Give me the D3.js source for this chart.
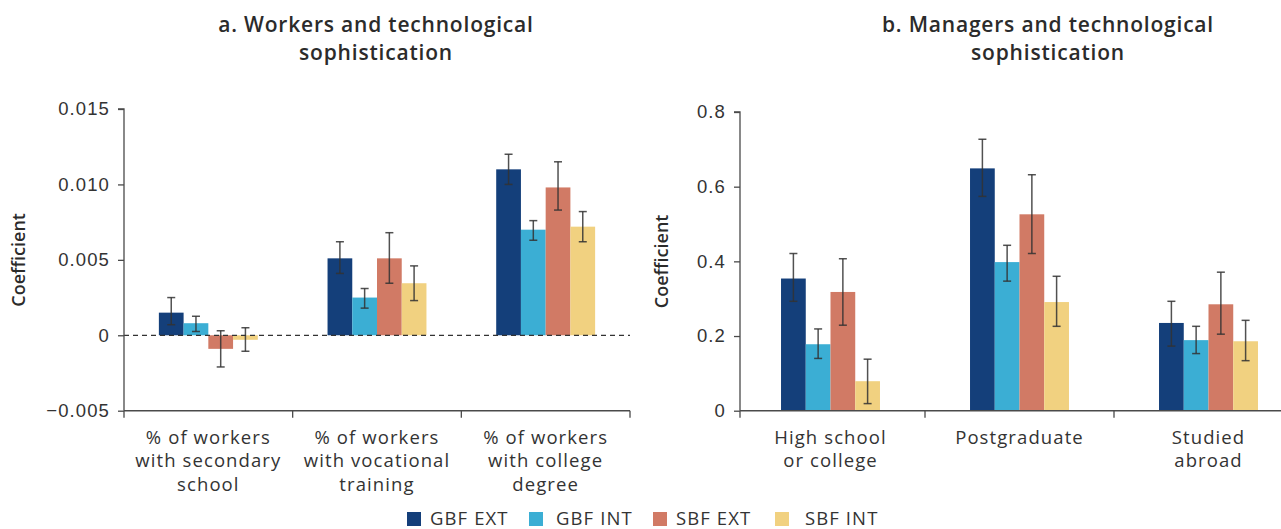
<!DOCTYPE html>
<html>
<head>
<meta charset="utf-8">
<script src="https://cdn.jsdelivr.net/npm/d3@7"></script>
<style>
  html, body { margin: 0; padding: 0; background: #fff; }
  svg { display: block; font-family: "Open Sans", "DejaVu Sans", sans-serif; }
</style>
</head>
<body>
<svg id="chart" width="1281" height="529"></svg>
<script>
// Series and colours
const seriesNames = ["GBF EXT", "GBF INT", "SBF EXT", "SBF INT"];
const seriesColors = ["#143f7a", "#3baed4", "#d17a65", "#f1d180"];

// Panel a: workers
const workerCategories = [
  ["% of workers", "with secondary", "school"],
  ["% of workers", "with vocational", "training"],
  ["% of workers", "with college", "degree"]
];
const workerGbfExt = [0.0015, 0.0051, 0.0110];
const workerGbfInt = [0.0008, 0.0025, 0.0070];
const workerSbfExt = [-0.0009, 0.0051, 0.0098];
const workerSbfInt = [-0.0003, 0.00345, 0.0072];
const workerGbfExtCI = [[0.0007, 0.0025], [0.0041, 0.0062], [0.0100, 0.0120]];
const workerGbfIntCI = [[0.00025, 0.00126], [0.0018, 0.0031], [0.0063, 0.0076]];
const workerSbfExtCI = [[-0.0021, 0.0003], [0.00345, 0.0068], [0.0083, 0.0115]];
const workerSbfIntCI = [[-0.00106, 0.0005], [0.0023, 0.0046], [0.0062, 0.0082]];
const workerTicks = [-0.005, 0, 0.005, 0.010, 0.015];
const workerTickLabels = ["\u22120.005", "0", "0.005", "0.010", "0.015"];

// Panel b: managers
const managerCategories = [
  ["High school", "or college"],
  ["Postgraduate"],
  ["Studied", "abroad"]
];
const managerGbfExt = [0.354, 0.649, 0.235];
const managerGbfInt = [0.178, 0.398, 0.189];
const managerSbfExt = [0.318, 0.526, 0.285];
const managerSbfInt = [0.079, 0.291, 0.186];
const managerGbfExtCI = [[0.293, 0.421], [0.574, 0.727], [0.173, 0.293]];
const managerGbfIntCI = [[0.140, 0.219], [0.347, 0.443], [0.153, 0.226]];
const managerSbfExtCI = [[0.229, 0.407], [0.421, 0.632], [0.205, 0.371]];
const managerSbfIntCI = [[0.019, 0.138], [0.226, 0.360], [0.134, 0.242]];
const managerTicks = [0, 0.2, 0.4, 0.6, 0.8];
const managerTickLabels = ["0", "0.2", "0.4", "0.6", "0.8"];

const svg = d3.select("#chart");
const textColor = "#2b2b2b";
const axisColor = "#4a4a4a";
const labelSize = "18.5px";
const labelSpacing = "1.1px";

function buildRows(cats, values, cis) {
  return cats.map((c, i) => ({
    key: i,
    label: c,
    bars: seriesNames.map((s, j) => ({ series: s, color: seriesColors[j], value: values[j][i], lo: cis[j][i][0], hi: cis[j][i][1] }))
  }));
}

function drawPanel(opt) {
  const g = svg.append("g");
  const rows = buildRows(opt.categories, opt.values, opt.cis);

  const y = d3.scaleLinear().domain(opt.yDomain).range(opt.yRange);
  const x0 = d3.scaleBand().domain(rows.map(r => r.key)).range(opt.xRange).padding(0);
  const x1 = d3.scaleBand().domain(seriesNames).range([0, x0.bandwidth()])
    .paddingInner(0).paddingOuter(opt.groupPad);

  // Bars
  const groups = g.selectAll("g.grp").data(rows).join("g")
    .attr("transform", r => `translate(${x0(r.key)},0)`);
  groups.selectAll("rect").data(r => r.bars).join("rect")
    .attr("x", d => x1(d.series))
    .attr("width", x1.bandwidth())
    .attr("y", d => y(Math.max(0, d.value)))
    .attr("height", d => Math.abs(y(d.value) - y(0)))
    .attr("fill", d => d.color);

  // Zero reference line
  if (opt.zeroLine) {
    g.append("line")
      .attr("x1", opt.axisX).attr("x2", opt.xRange[1])
      .attr("y1", y(0)).attr("y2", y(0))
      .attr("stroke", "#333").attr("stroke-width", 1.3)
      .attr("stroke-dasharray", "5,4");
  }

  // Error bars
  const cap = 4;
  const eb = groups.selectAll("g.err").data(r => r.bars).join("g")
    .attr("stroke", "#333").attr("stroke-width", 1.5).attr("stroke-opacity", 0.85);
  eb.append("line")
    .attr("x1", d => x1(d.series) + x1.bandwidth() / 2)
    .attr("x2", d => x1(d.series) + x1.bandwidth() / 2)
    .attr("y1", d => y(d.lo)).attr("y2", d => y(d.hi));
  eb.append("line")
    .attr("x1", d => x1(d.series) + x1.bandwidth() / 2 - cap)
    .attr("x2", d => x1(d.series) + x1.bandwidth() / 2 + cap)
    .attr("y1", d => y(d.hi)).attr("y2", d => y(d.hi));
  eb.append("line")
    .attr("x1", d => x1(d.series) + x1.bandwidth() / 2 - cap)
    .attr("x2", d => x1(d.series) + x1.bandwidth() / 2 + cap)
    .attr("y1", d => y(d.lo)).attr("y2", d => y(d.lo));

  // Y axis
  const yAxis = d3.axisLeft(y).tickValues(opt.ticks)
    .tickFormat((d, i) => opt.tickLabels[i]).tickSize(6).tickPadding(8);
  const ya = g.append("g").attr("transform", `translate(${opt.axisX},0)`).call(yAxis);
  ya.select(".domain").attr("stroke", axisColor).attr("stroke-width", 1.3)
    .attr("d", `M-6,${opt.yRange[1]}H0V${opt.yRange[0]}`);
  ya.selectAll(".tick line").attr("stroke", axisColor).attr("stroke-width", 1.3);
  ya.selectAll(".tick text").attr("fill", "#333")
    .style("font-size", labelSize).style("letter-spacing", labelSpacing);

  // X axis baseline and category ticks
  const baseY = opt.yRange[0];
  g.append("line")
    .attr("x1", opt.axisX).attr("x2", opt.xEnd)
    .attr("y1", baseY).attr("y2", baseY)
    .attr("stroke", axisColor).attr("stroke-width", 1.5);
  const bounds = rows.map(r => x0(r.key)).concat([x0.range()[1]])
    .map((b, i) => i === 0 ? opt.axisX : b)
    .filter(b => b <= opt.xEnd);
  g.selectAll("line.xt").data(bounds).join("line")
    .attr("x1", d => d).attr("x2", d => d)
    .attr("y1", baseY).attr("y2", baseY + 7)
    .attr("stroke", axisColor).attr("stroke-width", 1.3);

  // Category labels
  const lbl = g.selectAll("text.cat").data(rows).join("text")
    .attr("text-anchor", "middle")
    .attr("fill", "#333")
    .style("font-size", labelSize).style("letter-spacing", labelSpacing)
    .attr("transform", r => `translate(${x0(r.key) + x0.bandwidth() / 2},${baseY + 33})`);
  lbl.selectAll("tspan").data(r => r.label).join("tspan")
    .attr("x", 0).attr("dy", (d, i) => i === 0 ? 0 : 23.5).text(d => d);

  // Y axis title
  g.append("text")
    .attr("transform", `translate(${opt.titleX},${(opt.yRange[0] + opt.yRange[1]) / 2}) rotate(-90)`)
    .attr("text-anchor", "middle")
    .attr("fill", textColor)
    .style("font-size", "18px").style("font-weight", "600")
    .text("Coefficient");

  // Panel title, one text element per line
  g.selectAll("text.head").data(opt.heading).join("text")
    .attr("text-anchor", "middle")
    .attr("fill", textColor)
    .style("font-size", "21px").style("font-weight", "600").style("letter-spacing", "0.8px")
    .attr("x", opt.headX)
    .attr("y", (d, i) => 32 + i * 28)
    .text(d => d);
}

drawPanel({
  categories: workerCategories,
  values: [workerGbfExt, workerGbfInt, workerSbfExt, workerSbfInt],
  cis: [workerGbfExtCI, workerGbfIntCI, workerSbfExtCI, workerSbfIntCI],
  yDomain: [-0.005, 0.015], yRange: [410.7, 109],
  ticks: workerTicks, tickLabels: workerTickLabels,
  xRange: [124, 630], xEnd: 630, axisX: 124, groupPad: 1.41,
  zeroLine: true, titleX: 25,
  headX: 376, heading: ["a. Workers and technological", "sophistication"]
});

drawPanel({
  categories: managerCategories,
  values: [managerGbfExt, managerGbfInt, managerSbfExt, managerSbfInt],
  cis: [managerGbfExtCI, managerGbfIntCI, managerSbfExtCI, managerSbfIntCI],
  yDomain: [0, 0.8], yRange: [410.7, 112],
  ticks: managerTicks, tickLabels: managerTickLabels,
  xRange: [736, 1303], xEnd: 1281, axisX: 740, groupPad: 1.82,
  zeroLine: false, titleX: 668,
  headX: 1048, heading: ["b. Managers and technological", "sophistication"]
});

// Legend
const legendX = [407, 529, 653, 775];
const legendTextX = [430, 556, 676, 805];
const leg = svg.append("g");
seriesNames.forEach((s, i) => {
  leg.append("rect").attr("x", legendX[i]).attr("y", 512).attr("width", 14).attr("height", 14)
    .attr("fill", seriesColors[i]);
  leg.append("text").attr("x", legendTextX[i]).attr("y", 525)
    .attr("fill", "#333").style("font-size", labelSize).style("letter-spacing", labelSpacing)
    .text(s);
});
</script>
</body>
</html>
